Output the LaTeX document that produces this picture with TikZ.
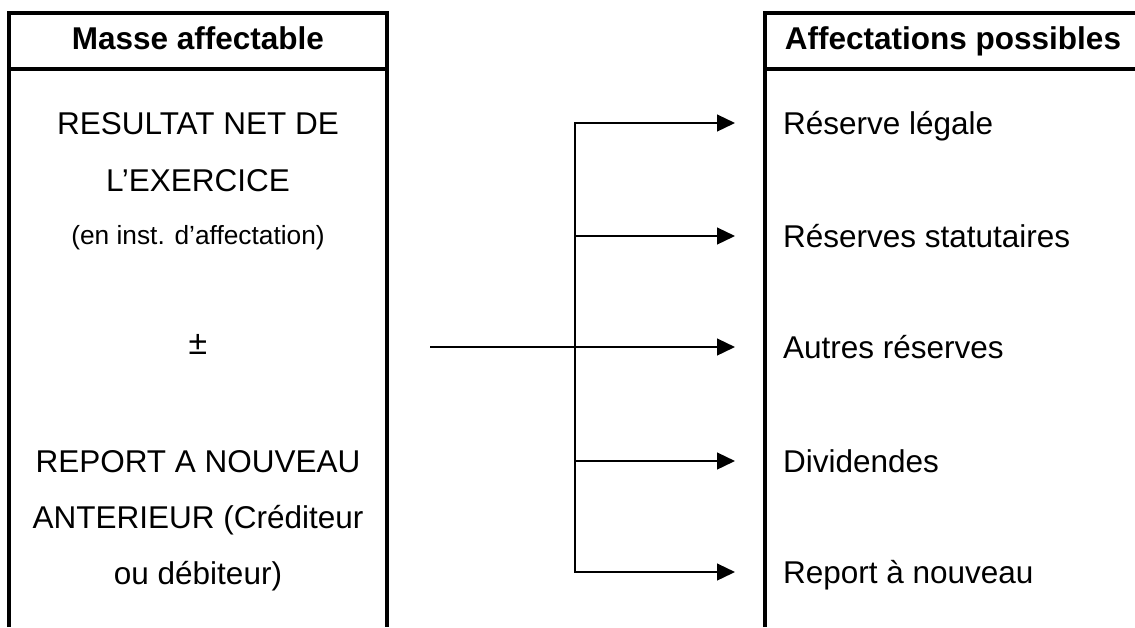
\documentclass[tikz,border=0pt]{standalone}
\usepackage{fontspec}
\setmainfont{Liberation Sans}
\usetikzlibrary{arrows.meta}
\usetikzlibrary{positioning}
\tikzset{every picture/.style={/utils/exec={\fontsize{22.4}{27}\selectfont}}}

\begin{document}
\begin{tikzpicture}[x=0.025cm, y=-0.025cm,
  boxline/.style={line width=2.2pt},
  txt/.style={inner sep=0, anchor=base},
  head/.style={txt, font=\bfseries},
  target/.style={anchor=west, inner sep=0, outer xsep=1.2cm, text height=0.56cm, text depth=0pt},
  flow/.style={line width=1.4pt, -{Triangle[length=0.45cm, width=0.42cm]}}]

  \useasboundingbox (0,0) rectangle (1135,627);

  % masse affectable (left column):
  \draw [boxline] (9,627) -- (9,13) -- (387,13) -- (387,627);
  \draw [boxline] (9,69) -- (387,69);
  \node [head] (masse) at (198,49) {Masse affectable};

  \node [txt] (res1) at (198,134) {RESULTAT NET DE};
  \node [txt] (res2) at (198,191) {L’EXERCICE};
  \node [txt, font=\fontsize{18.7}{22}\selectfont] (inst) at (198,244) {(en inst. d’affectation)};
  \node [inner sep=0, font=\fontsize{24}{28}\selectfont] (pm) at (198,344) {±};
  \node [txt] (rep1) at (198,472) {REPORT A NOUVEAU};
  \node [txt] (rep2) at (198,528) {ANTERIEUR (Créditeur};
  \node [txt] (rep3) at (198,584) {ou débiteur)};

  % affectations possibles (right column):
  \draw [boxline] (765,627) -- (765,13) -- (1135,13);
  \draw [boxline] (765,69) -- (1135,69);
  \node [head] (affect) at (953,49) {Affectations possibles};

  \foreach \y/\t/\n in {123/Réserve légale/r1, 236/Réserves statutaires/r2,
      347/Autres réserves/r3, 461/Dividendes/r4, 572/Report à nouveau/r5}
    \node [target] (\n) at (735,\y) {\t};

  % arrows:
  \coordinate (in) at (430,347);
  \coordinate (top) at (575,123);
  \coordinate (bot) at (575,572);

  \draw [line width=1.4pt, line cap=rect] (top) -- (bot);
  \draw [flow] (in) -- (r3);
  \foreach \n in {r1,r2,r4,r5} \draw [flow] (top |- \n) -- (\n);

\end{tikzpicture}
\end{document}
